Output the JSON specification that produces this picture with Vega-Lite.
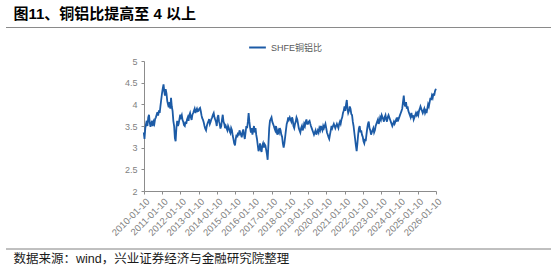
{
"$schema": "https://vega.github.io/schema/vega-lite/v6.json",
"background": "white",
"padding": {"left": 5, "top": 7, "right": 4, "bottom": 0},
"spacing": 10,
"title": {"text": "图11、铜铝比提高至 4 以上", "anchor": "start", "dx": 8, "fontSize": 15, "fontWeight": "bold", "color": "#000000", "offset": 5, "font": "Liberation Sans, Noto Sans CJK SC"},
"resolve": {"scale": {"color": "independent"}, "legend": {"color": "independent"}},
"config": {"font": "Liberation Sans, Noto Sans CJK SC", "view": {"stroke": null}},
"datasets": {
"ratio": [
{"date":"2010-01-05","ratio":3.35},{"date":"2010-01-20","ratio":3.2},{"date":"2010-02-05","ratio":3.45},{"date":"2010-02-20","ratio":3.55},{"date":"2010-03-05","ratio":3.62},{"date":"2010-03-20","ratio":3.5},{"date":"2010-04-05","ratio":3.7},{"date":"2010-04-20","ratio":3.76},{"date":"2010-05-05","ratio":3.58},{"date":"2010-05-20","ratio":3.48},{"date":"2010-06-05","ratio":3.56},{"date":"2010-06-20","ratio":3.62},{"date":"2010-07-05","ratio":3.5},{"date":"2010-07-20","ratio":3.6},{"date":"2010-08-05","ratio":3.55},{"date":"2010-08-20","ratio":3.66},{"date":"2010-09-05","ratio":3.7},{"date":"2010-09-20","ratio":3.76},{"date":"2010-10-05","ratio":3.82},{"date":"2010-10-20","ratio":3.74},{"date":"2010-11-05","ratio":3.86},{"date":"2010-11-20","ratio":3.8},{"date":"2010-12-05","ratio":3.96},{"date":"2010-12-20","ratio":4.1},
{"date":"2011-01-05","ratio":4.25},{"date":"2011-01-20","ratio":4.36},{"date":"2011-02-05","ratio":4.46},{"date":"2011-02-20","ratio":4.3},{"date":"2011-03-05","ratio":4.2},{"date":"2011-03-20","ratio":4.35},{"date":"2011-04-05","ratio":4.25},{"date":"2011-04-20","ratio":4.08},{"date":"2011-05-05","ratio":4.0},{"date":"2011-05-20","ratio":3.93},{"date":"2011-06-05","ratio":4.05},{"date":"2011-06-20","ratio":3.9},{"date":"2011-07-05","ratio":4.15},{"date":"2011-07-20","ratio":3.95},{"date":"2011-08-05","ratio":3.85},{"date":"2011-08-20","ratio":3.62},{"date":"2011-09-05","ratio":3.5},{"date":"2011-09-20","ratio":3.22},{"date":"2011-10-05","ratio":3.15},{"date":"2011-10-20","ratio":3.45},{"date":"2011-11-05","ratio":3.62},{"date":"2011-11-20","ratio":3.5},{"date":"2011-12-05","ratio":3.55},{"date":"2011-12-20","ratio":3.66},
{"date":"2012-01-05","ratio":3.76},{"date":"2012-01-20","ratio":3.7},{"date":"2012-02-05","ratio":3.75},{"date":"2012-02-20","ratio":3.64},{"date":"2012-03-05","ratio":3.6},{"date":"2012-03-20","ratio":3.52},{"date":"2012-04-05","ratio":3.5},{"date":"2012-04-20","ratio":3.6},{"date":"2012-05-05","ratio":3.55},{"date":"2012-05-20","ratio":3.65},{"date":"2012-06-05","ratio":3.7},{"date":"2012-06-20","ratio":3.62},{"date":"2012-07-05","ratio":3.75},{"date":"2012-07-20","ratio":3.8},{"date":"2012-08-05","ratio":3.7},{"date":"2012-08-20","ratio":3.64},{"date":"2012-09-05","ratio":3.76},{"date":"2012-09-20","ratio":3.8},{"date":"2012-10-05","ratio":3.85},{"date":"2012-10-20","ratio":3.9},{"date":"2012-11-05","ratio":3.8},{"date":"2012-11-20","ratio":3.86},{"date":"2012-12-05","ratio":3.9},{"date":"2012-12-20","ratio":3.84},
{"date":"2013-01-05","ratio":3.85},{"date":"2013-01-20","ratio":3.9},{"date":"2013-02-05","ratio":3.92},{"date":"2013-02-20","ratio":3.84},{"date":"2013-03-05","ratio":3.75},{"date":"2013-03-20","ratio":3.68},{"date":"2013-04-05","ratio":3.64},{"date":"2013-04-20","ratio":3.58},{"date":"2013-05-05","ratio":3.5},{"date":"2013-05-20","ratio":3.44},{"date":"2013-06-05","ratio":3.4},{"date":"2013-06-20","ratio":3.5},{"date":"2013-07-05","ratio":3.56},{"date":"2013-07-20","ratio":3.6},{"date":"2013-08-05","ratio":3.66},{"date":"2013-08-20","ratio":3.55},{"date":"2013-09-05","ratio":3.6},{"date":"2013-09-20","ratio":3.66},{"date":"2013-10-05","ratio":3.7},{"date":"2013-10-20","ratio":3.76},{"date":"2013-11-05","ratio":3.8},{"date":"2013-11-20","ratio":3.7},{"date":"2013-12-05","ratio":3.65},{"date":"2013-12-20","ratio":3.6},
{"date":"2014-01-05","ratio":3.5},{"date":"2014-01-20","ratio":3.7},{"date":"2014-02-05","ratio":3.75},{"date":"2014-02-20","ratio":3.6},{"date":"2014-03-05","ratio":3.55},{"date":"2014-03-20","ratio":3.44},{"date":"2014-04-05","ratio":3.5},{"date":"2014-04-20","ratio":3.65},{"date":"2014-05-05","ratio":3.76},{"date":"2014-05-20","ratio":3.6},{"date":"2014-06-05","ratio":3.55},{"date":"2014-06-20","ratio":3.45},{"date":"2014-07-05","ratio":3.5},{"date":"2014-07-20","ratio":3.45},{"date":"2014-08-05","ratio":3.4},{"date":"2014-08-20","ratio":3.5},{"date":"2014-09-05","ratio":3.45},{"date":"2014-09-20","ratio":3.38},{"date":"2014-10-05","ratio":3.34},{"date":"2014-10-20","ratio":3.45},{"date":"2014-11-05","ratio":3.4},{"date":"2014-11-20","ratio":3.28},{"date":"2014-12-05","ratio":3.2},{"date":"2014-12-20","ratio":3.1},
{"date":"2015-01-05","ratio":3.05},{"date":"2015-01-20","ratio":3.2},{"date":"2015-02-05","ratio":3.3},{"date":"2015-02-20","ratio":3.24},{"date":"2015-03-05","ratio":3.35},{"date":"2015-03-20","ratio":3.28},{"date":"2015-04-05","ratio":3.4},{"date":"2015-04-20","ratio":3.35},{"date":"2015-05-05","ratio":3.3},{"date":"2015-05-20","ratio":3.24},{"date":"2015-06-05","ratio":3.36},{"date":"2015-06-20","ratio":3.42},{"date":"2015-07-05","ratio":3.3},{"date":"2015-07-20","ratio":3.2},{"date":"2015-08-05","ratio":3.35},{"date":"2015-08-20","ratio":3.5},{"date":"2015-09-05","ratio":3.45},{"date":"2015-09-20","ratio":3.6},{"date":"2015-10-05","ratio":3.8},{"date":"2015-10-20","ratio":3.6},{"date":"2015-11-05","ratio":3.45},{"date":"2015-11-20","ratio":3.35},{"date":"2015-12-05","ratio":3.45},{"date":"2015-12-20","ratio":3.3},
{"date":"2016-01-05","ratio":3.4},{"date":"2016-01-20","ratio":3.5},{"date":"2016-02-05","ratio":3.35},{"date":"2016-02-20","ratio":3.45},{"date":"2016-03-05","ratio":3.3},{"date":"2016-03-20","ratio":3.2},{"date":"2016-04-05","ratio":3.05},{"date":"2016-04-20","ratio":2.92},{"date":"2016-05-05","ratio":2.98},{"date":"2016-05-20","ratio":3.1},{"date":"2016-06-05","ratio":2.95},{"date":"2016-06-20","ratio":2.9},{"date":"2016-07-05","ratio":3.05},{"date":"2016-07-20","ratio":3.1},{"date":"2016-08-05","ratio":3.0},{"date":"2016-08-20","ratio":3.08},{"date":"2016-09-05","ratio":3.05},{"date":"2016-09-20","ratio":2.95},{"date":"2016-10-05","ratio":2.85},{"date":"2016-10-20","ratio":2.72},{"date":"2016-11-05","ratio":3.1},{"date":"2016-11-20","ratio":3.45},{"date":"2016-12-05","ratio":3.62},{"date":"2016-12-20","ratio":3.66},
{"date":"2017-01-05","ratio":3.7},{"date":"2017-01-20","ratio":3.6},{"date":"2017-02-05","ratio":3.55},{"date":"2017-02-20","ratio":3.5},{"date":"2017-03-05","ratio":3.45},{"date":"2017-03-20","ratio":3.4},{"date":"2017-04-05","ratio":3.5},{"date":"2017-04-20","ratio":3.35},{"date":"2017-05-05","ratio":3.3},{"date":"2017-05-20","ratio":3.4},{"date":"2017-06-05","ratio":3.35},{"date":"2017-06-20","ratio":3.45},{"date":"2017-07-05","ratio":3.4},{"date":"2017-07-20","ratio":3.3},{"date":"2017-08-05","ratio":3.25},{"date":"2017-08-20","ratio":3.1},{"date":"2017-09-05","ratio":3.0},{"date":"2017-09-20","ratio":3.1},{"date":"2017-10-05","ratio":3.25},{"date":"2017-10-20","ratio":3.4},{"date":"2017-11-05","ratio":3.55},{"date":"2017-11-20","ratio":3.6},{"date":"2017-12-05","ratio":3.7},{"date":"2017-12-20","ratio":3.65},
{"date":"2018-01-05","ratio":3.7},{"date":"2018-01-20","ratio":3.65},{"date":"2018-02-05","ratio":3.6},{"date":"2018-02-20","ratio":3.7},{"date":"2018-03-05","ratio":3.65},{"date":"2018-03-20","ratio":3.5},{"date":"2018-04-05","ratio":3.45},{"date":"2018-04-20","ratio":3.55},{"date":"2018-05-05","ratio":3.6},{"date":"2018-05-20","ratio":3.7},{"date":"2018-06-05","ratio":3.65},{"date":"2018-06-20","ratio":3.55},{"date":"2018-07-05","ratio":3.45},{"date":"2018-07-20","ratio":3.4},{"date":"2018-08-05","ratio":3.35},{"date":"2018-08-20","ratio":3.45},{"date":"2018-09-05","ratio":3.5},{"date":"2018-09-20","ratio":3.4},{"date":"2018-10-05","ratio":3.45},{"date":"2018-10-20","ratio":3.55},{"date":"2018-11-05","ratio":3.5},{"date":"2018-11-20","ratio":3.6},{"date":"2018-12-05","ratio":3.65},{"date":"2018-12-20","ratio":3.55},
{"date":"2019-01-05","ratio":3.55},{"date":"2019-01-20","ratio":3.6},{"date":"2019-02-05","ratio":3.62},{"date":"2019-02-20","ratio":3.55},{"date":"2019-03-05","ratio":3.5},{"date":"2019-03-20","ratio":3.45},{"date":"2019-04-05","ratio":3.4},{"date":"2019-04-20","ratio":3.35},{"date":"2019-05-05","ratio":3.3},{"date":"2019-05-20","ratio":3.35},{"date":"2019-06-05","ratio":3.4},{"date":"2019-06-20","ratio":3.3},{"date":"2019-07-05","ratio":3.35},{"date":"2019-07-20","ratio":3.4},{"date":"2019-08-05","ratio":3.35},{"date":"2019-08-20","ratio":3.45},{"date":"2019-09-05","ratio":3.4},{"date":"2019-09-20","ratio":3.5},{"date":"2019-10-05","ratio":3.45},{"date":"2019-10-20","ratio":3.4},{"date":"2019-11-05","ratio":3.5},{"date":"2019-11-20","ratio":3.45},{"date":"2019-12-05","ratio":3.5},{"date":"2019-12-20","ratio":3.55},
{"date":"2020-01-05","ratio":3.45},{"date":"2020-01-20","ratio":3.35},{"date":"2020-02-05","ratio":3.3},{"date":"2020-02-20","ratio":3.24},{"date":"2020-03-05","ratio":3.2},{"date":"2020-03-20","ratio":3.3},{"date":"2020-04-05","ratio":3.4},{"date":"2020-04-20","ratio":3.5},{"date":"2020-05-05","ratio":3.45},{"date":"2020-05-20","ratio":3.5},{"date":"2020-06-05","ratio":3.55},{"date":"2020-06-20","ratio":3.5},{"date":"2020-07-05","ratio":3.45},{"date":"2020-07-20","ratio":3.5},{"date":"2020-08-05","ratio":3.55},{"date":"2020-08-20","ratio":3.5},{"date":"2020-09-05","ratio":3.45},{"date":"2020-09-20","ratio":3.55},{"date":"2020-10-05","ratio":3.6},{"date":"2020-10-20","ratio":3.55},{"date":"2020-11-05","ratio":3.65},{"date":"2020-11-20","ratio":3.7},{"date":"2020-12-05","ratio":3.8},{"date":"2020-12-20","ratio":3.85},
{"date":"2021-01-05","ratio":3.95},{"date":"2021-01-20","ratio":3.85},{"date":"2021-02-05","ratio":4.0},{"date":"2021-02-20","ratio":4.1},{"date":"2021-03-05","ratio":3.9},{"date":"2021-03-20","ratio":3.8},{"date":"2021-04-05","ratio":3.85},{"date":"2021-04-20","ratio":3.95},{"date":"2021-05-05","ratio":3.9},{"date":"2021-05-20","ratio":3.78},{"date":"2021-06-05","ratio":3.75},{"date":"2021-06-20","ratio":3.6},{"date":"2021-07-05","ratio":3.5},{"date":"2021-07-20","ratio":3.35},{"date":"2021-08-05","ratio":3.2},{"date":"2021-08-20","ratio":3.05},{"date":"2021-09-05","ratio":2.92},{"date":"2021-09-20","ratio":3.1},{"date":"2021-10-05","ratio":3.3},{"date":"2021-10-20","ratio":3.45},{"date":"2021-11-05","ratio":3.5},{"date":"2021-11-20","ratio":3.35},{"date":"2021-12-05","ratio":3.4},{"date":"2021-12-20","ratio":3.3},
{"date":"2022-01-05","ratio":3.25},{"date":"2022-01-20","ratio":3.15},{"date":"2022-02-05","ratio":3.1},{"date":"2022-02-20","ratio":3.2},{"date":"2022-03-05","ratio":3.15},{"date":"2022-03-20","ratio":3.3},{"date":"2022-04-05","ratio":3.45},{"date":"2022-04-20","ratio":3.55},{"date":"2022-05-05","ratio":3.6},{"date":"2022-05-20","ratio":3.45},{"date":"2022-06-05","ratio":3.4},{"date":"2022-06-20","ratio":3.3},{"date":"2022-07-05","ratio":3.35},{"date":"2022-07-20","ratio":3.4},{"date":"2022-08-05","ratio":3.45},{"date":"2022-08-20","ratio":3.35},{"date":"2022-09-05","ratio":3.4},{"date":"2022-09-20","ratio":3.5},{"date":"2022-10-05","ratio":3.55},{"date":"2022-10-20","ratio":3.6},{"date":"2022-11-05","ratio":3.65},{"date":"2022-11-20","ratio":3.55},{"date":"2022-12-05","ratio":3.6},{"date":"2022-12-20","ratio":3.7},
{"date":"2023-01-05","ratio":3.65},{"date":"2023-01-20","ratio":3.75},{"date":"2023-02-05","ratio":3.7},{"date":"2023-02-20","ratio":3.65},{"date":"2023-03-05","ratio":3.6},{"date":"2023-03-20","ratio":3.7},{"date":"2023-04-05","ratio":3.75},{"date":"2023-04-20","ratio":3.65},{"date":"2023-05-05","ratio":3.6},{"date":"2023-05-20","ratio":3.7},{"date":"2023-06-05","ratio":3.75},{"date":"2023-06-20","ratio":3.7},{"date":"2023-07-05","ratio":3.65},{"date":"2023-07-20","ratio":3.6},{"date":"2023-08-05","ratio":3.55},{"date":"2023-08-20","ratio":3.5},{"date":"2023-09-05","ratio":3.55},{"date":"2023-09-20","ratio":3.6},{"date":"2023-10-05","ratio":3.55},{"date":"2023-10-20","ratio":3.6},{"date":"2023-11-05","ratio":3.65},{"date":"2023-11-20","ratio":3.6},{"date":"2023-12-05","ratio":3.7},{"date":"2023-12-20","ratio":3.65},
{"date":"2024-01-05","ratio":3.7},{"date":"2024-01-20","ratio":3.75},{"date":"2024-02-05","ratio":3.8},{"date":"2024-02-20","ratio":3.85},{"date":"2024-03-05","ratio":3.9},{"date":"2024-03-20","ratio":4.05},{"date":"2024-04-05","ratio":4.2},{"date":"2024-04-20","ratio":4.0},{"date":"2024-05-05","ratio":3.95},{"date":"2024-05-20","ratio":4.05},{"date":"2024-06-05","ratio":3.9},{"date":"2024-06-20","ratio":3.95},{"date":"2024-07-05","ratio":3.85},{"date":"2024-07-20","ratio":3.8},{"date":"2024-08-05","ratio":3.75},{"date":"2024-08-20","ratio":3.7},{"date":"2024-09-05","ratio":3.8},{"date":"2024-09-20","ratio":3.7},{"date":"2024-10-05","ratio":3.75},{"date":"2024-10-20","ratio":3.65},{"date":"2024-11-05","ratio":3.7},{"date":"2024-11-20","ratio":3.75},{"date":"2024-12-05","ratio":3.8},{"date":"2024-12-20","ratio":3.75},
{"date":"2025-01-05","ratio":3.8},{"date":"2025-01-20","ratio":3.75},{"date":"2025-02-05","ratio":3.85},{"date":"2025-02-20","ratio":3.9},{"date":"2025-03-05","ratio":3.95},{"date":"2025-03-20","ratio":3.9},{"date":"2025-04-05","ratio":3.85},{"date":"2025-04-20","ratio":3.8},{"date":"2025-05-05","ratio":3.85},{"date":"2025-05-20","ratio":3.9},{"date":"2025-06-05","ratio":3.8},{"date":"2025-06-20","ratio":3.85},{"date":"2025-07-05","ratio":3.8},{"date":"2025-07-20","ratio":3.9},{"date":"2025-08-05","ratio":4.0},{"date":"2025-08-20","ratio":3.95},{"date":"2025-09-05","ratio":4.05},{"date":"2025-09-20","ratio":4.15},{"date":"2025-10-05","ratio":4.1},{"date":"2025-10-20","ratio":4.2},{"date":"2025-11-05","ratio":4.15},{"date":"2025-11-20","ratio":4.25},{"date":"2025-12-05","ratio":4.2},{"date":"2025-12-20","ratio":4.3},{"date":"2026-01-08","ratio":4.36}
]
},
"vconcat": [
{
"width": 545, "height": 1,
"view": {"fill": "#8a8a8a", "stroke": null},
"data": {"values": [{}]},
"mark": {"type": "rule", "color": "#8a8a8a", "strokeWidth": 1},
"encoding": {"y": {"datum": 0.5, "type": "quantitative", "scale": {"domain": [0, 1]}, "axis": null}}
},
{
"hconcat": [
{"width": 138, "height": 130, "data": {"values": []}, "mark": "point"},
{
"width": 292, "height": 130,
"data": {"name": "ratio"},
"mark": {"type": "line", "strokeWidth": 1.8},
"encoding": {
"x": {"field": "date", "type": "temporal",
"scale": {"type": "utc", "domain": [{"year": 2010, "month": 1, "date": 10, "utc": true}, {"year": 2026, "month": 1, "date": 10, "utc": true}]},
"axis": {"title": null, "grid": false, "labelExpr": "utcFormat(datum.value, '%Y-%m-%d')", "labelAngle": -45, "labelFontSize": 9.5, "labelColor": "#7f7f7f", "domainColor": "#8c8c8c", "tickColor": "#8c8c8c", "tickSize": 3, "labelPadding": 2, "labelOverlap": false, "labelFlush": false,
"values": [{"year":2010,"month":1,"date":10,"utc":true},{"year":2011,"month":1,"date":10,"utc":true},{"year":2012,"month":1,"date":10,"utc":true},{"year":2013,"month":1,"date":10,"utc":true},{"year":2014,"month":1,"date":10,"utc":true},{"year":2015,"month":1,"date":10,"utc":true},{"year":2016,"month":1,"date":10,"utc":true},{"year":2017,"month":1,"date":10,"utc":true},{"year":2018,"month":1,"date":10,"utc":true},{"year":2019,"month":1,"date":10,"utc":true},{"year":2020,"month":1,"date":10,"utc":true},{"year":2021,"month":1,"date":10,"utc":true},{"year":2022,"month":1,"date":10,"utc":true},{"year":2023,"month":1,"date":10,"utc":true},{"year":2024,"month":1,"date":10,"utc":true},{"year":2025,"month":1,"date":10,"utc":true},{"year":2026,"month":1,"date":10,"utc":true}]}},
"y": {"field": "ratio", "type": "quantitative", "scale": {"domain": [2, 5], "zero": false},
"axis": {"title": null, "grid": false, "values": [2, 2.5, 3, 3.5, 4, 4.5, 5], "format": "~g", "labelFontSize": 9, "labelColor": "#7f7f7f", "domainColor": "#8c8c8c", "tickColor": "#8c8c8c", "tickSize": 3, "labelPadding": 4}},
"color": {"datum": "SHFE铜铝比", "type": "nominal", "scale": {"range": ["#1c5ba6"]},
"legend": {"title": null, "orient": "none", "legendX": 104, "legendY": -23, "direction": "horizontal", "symbolType": "stroke", "symbolStrokeWidth": 2, "symbolSize": 280, "labelFontSize": 9, "labelColor": "#595959", "labelFont": "Liberation Sans, Noto Sans CJK SC"}}
}
}
],
"spacing": 0,
"bounds": "flush",
"resolve": {"scale": {"color": "independent"}, "legend": {"color": "independent"}}
},
{
"width": 545, "height": 1,
"data": {"values": [{}]},
"mark": {"type": "rule", "color": "#808080", "strokeWidth": 1},
"encoding": {"y": {"datum": 0, "type": "quantitative", "scale": {"domain": [0, 1]}, "axis": null}},
"title": {"text": "数据来源：wind，兴业证券经济与金融研究院整理", "orient": "bottom", "anchor": "start", "dx": 8, "fontSize": 12.5, "fontWeight": "normal", "color": "#1a1a1a", "offset": 3, "font": "Liberation Sans, Noto Sans CJK SC"}
}
]
}
